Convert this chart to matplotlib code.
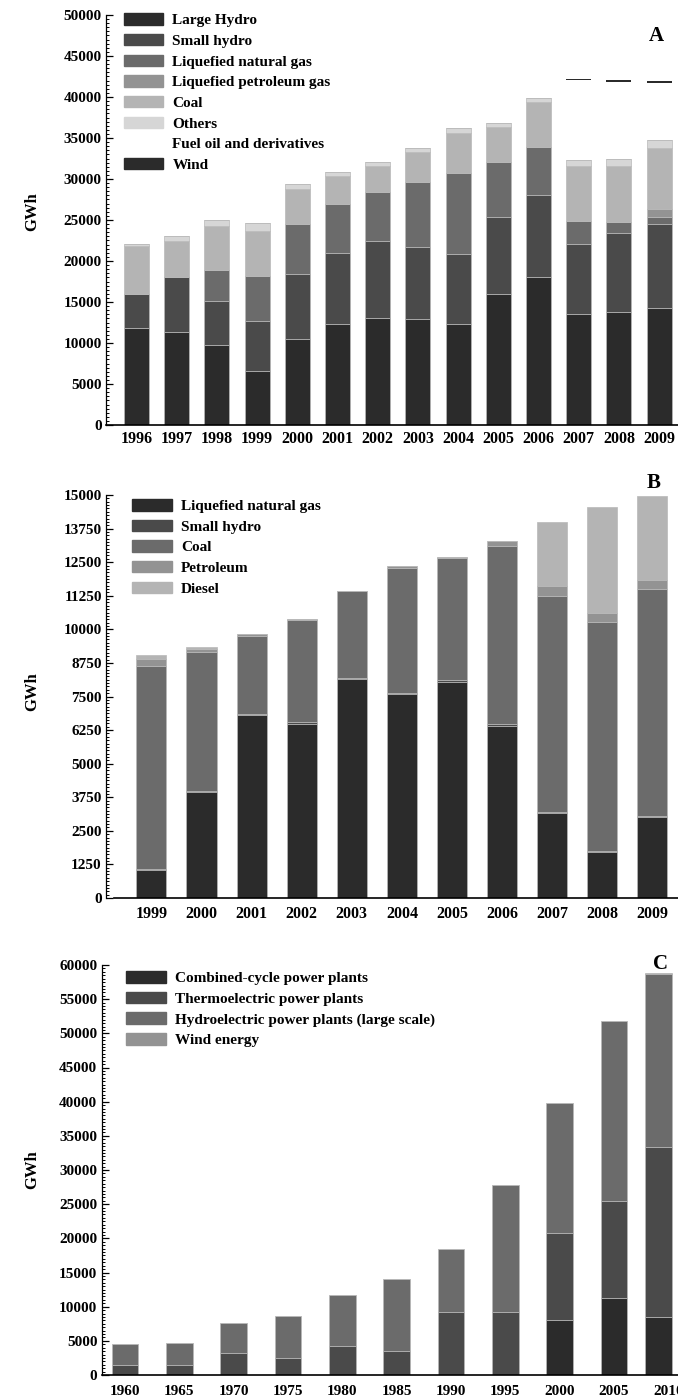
import matplotlib
matplotlib.use('Agg')
import matplotlib.pyplot as plt
import numpy as np
from matplotlib.patches import Patch
from matplotlib.ticker import MultipleLocator

plt.rcParams['font.family'] = ['Liberation Serif', 'DejaVu Serif']
plt.rcParams['font.weight'] = 'bold'

# ---- A: generation by source, 1996-2009 (GWh)
years_a = ['1996', '1997', '1998', '1999', '2000', '2001', '2002',
           '2003', '2004', '2005', '2006', '2007', '2008', '2009']
large_hydro = [11890, 11370, 9740, 6560, 10430, 12340, 13080, 12910, 12340, 16010, 18000, 13480, 13810, 14210]
small_hydro = [4120, 6630, 5330, 6150, 7980, 8680, 9370, 8840, 8470, 9320, 10000, 8640, 9650, 10270]
lng_a = [0, 0, 3830, 5420, 6110, 5950, 6000, 7900, 9940, 6690, 5890, 2730, 1260, 940]
lpg_a = [0, 0, 0, 0, 0, 0, 0, 0, 0, 0, 0, 0, 0, 980]
coal_a = [5860, 4400, 5340, 5580, 4240, 3370, 3110, 3590, 4850, 4270, 5460, 6710, 6840, 7360]
others_a = [210, 700, 810, 930, 610, 490, 460, 530, 650, 490, 570, 700, 860, 940]
fuel_oil_a = [0] * 14
wind_years = ['2007', '2008', '2009']
wind_level = [42100, 41950, 41830]

# ---- B: 1999-2009 (GWh)
years_b = ['1999', '2000', '2001', '2002', '2003', '2004', '2005', '2006', '2007', '2008', '2009']
lng_b = [1040, 3930, 6810, 6490, 8140, 7580, 8050, 6410, 3160, 1710, 3015]
small_hydro_b = [50, 50, 50, 50, 50, 50, 50, 50, 50, 50, 50]
coal_b = [7530, 5175, 2880, 3820, 3220, 4640, 4560, 6640, 8030, 8500, 8435]
petroleum_b = [290, 115, 70, 30, 30, 90, 20, 180, 370, 340, 335]
diesel_b = [120, 60, 20, 0, 0, 0, 0, 0, 2370, 3940, 3125]

# ---- C: 1960-2010 (GWh)
years_c = ['1960', '1965', '1970', '1975', '1980', '1985', '1990', '1995', '2000', '2005', '2010']
combined_cycle = [0, 0, 0, 0, 0, 0, 0, 0, 8050, 11310, 8530]
thermo = [1460, 1510, 3170, 2490, 4240, 3560, 9270, 9220, 12720, 14190, 24830]
hydro_c = [3075, 3120, 4440, 6140, 7460, 10490, 9120, 18580, 19030, 26290, 25260]
wind_c = [0, 0, 0, 0, 0, 0, 0, 0, 0, 0, 150]

shades = ['#2b2b2b', '#4a4a4a', '#6b6b6b', '#939393', '#b4b4b4', '#d6d6d6']

W, H = 678, 1400
fig = plt.figure(figsize=(W / 100, H / 100), dpi=100)


def add_ax(left, base, top, right=692):
    return fig.add_axes([left / W, 1 - base / H, (right - left) / W, (base - top) / H])


def stack(ax, x, series, colors, width):
    bottom = np.zeros(len(x))
    for vals, c in zip(series, colors):
        vals = np.asarray(vals, dtype=float)
        ax.bar(x, vals, width, bottom=bottom, color=c, edgecolor='#b8b8b8', linewidth=0.5)
        bottom += vals


def style(ax, ymax, major, minor, xpad, xsize):
    ax.set_ylim(0, ymax)
    ax.yaxis.set_major_locator(MultipleLocator(major))
    ax.yaxis.set_minor_locator(MultipleLocator(minor))
    for s in ['top', 'right']:
        ax.spines[s].set_visible(False)
    ax.spines['left'].set_linewidth(0.9)
    ax.spines['bottom'].set_linewidth(1.2)
    ax.tick_params(axis='y', which='major', direction='in', length=5, width=0.9, labelsize=11, pad=3)
    ax.tick_params(axis='y', which='minor', direction='in', length=2.5, width=0.7)
    ax.tick_params(axis='x', length=0, labelsize=xsize, pad=xpad)


def legend(ax, labels, colors, x, y):
    handles = [Patch(facecolor=c, edgecolor=c) for c in colors]
    ax.legend(handles, labels, loc='upper left', bbox_to_anchor=(x, y), frameon=False,
              fontsize=11, handlelength=2.6, handleheight=0.78, labelspacing=0.43,
              handletextpad=0.6, borderpad=0, borderaxespad=0)


# panel A
ax = add_ax(106, 425, 15)
xa = np.arange(len(years_a))
stack(ax, xa, [large_hydro, small_hydro, lng_a, lpg_a, coal_a, others_a, fuel_oil_a],
      shades + ['white'], 0.62)
xw = np.array([years_a.index(y) for y in wind_years])
ax.bar(xw, 150, 0.62, bottom=np.array(wind_level) - 75, color=shades[0], linewidth=0)
ax.set_xticks(xa)
ax.set_xticklabels(years_a)
ax.set_xlim(-0.759, (692 - 136.5) / 40.2)
style(ax, 50000, 5000, 500, 4, 11.5)
legend(ax, ['Large Hydro', 'Small hydro', 'Liquefied natural gas', 'Liquefied petroleum gas',
            'Coal', 'Others', 'Fuel oil and derivatives', 'Wind'],
       shades + ['white', shades[0]], 0.03, 1.004)

# panel B
ax = add_ax(106, 898, 495)
xb = np.arange(len(years_b))
stack(ax, xb, [lng_b, small_hydro_b, coal_b, petroleum_b, diesel_b], shades[:5], 0.6)
ax.set_xticks(xb)
ax.set_xticklabels(years_b)
ax.set_xlim(-0.906, (692 - 151.4) / 50.1)
style(ax, 15000, 1250, 125, 6, 11.5)
ax.spines['bottom'].set_bounds(-0.75, 20)
legend(ax, ['Liquefied natural gas', 'Small hydro', 'Coal', 'Petroleum', 'Diesel'],
       shades[:5], 0.045, 0.99)

# panel C
ax = add_ax(101.5, 1375, 965)
xc = np.arange(len(years_c), dtype=float)
xbar = xc.copy()
xbar[-1] -= 0.18
stack(ax, xbar, [combined_cycle, thermo, hydro_c, wind_c], shades[:4], 0.49)
ax.set_xticks(xc)
ax.set_xticklabels(years_c)
ax.set_xlim(-0.436, (692 - 125.2) / 54.3)
style(ax, 60000, 5000, 500, 7, 11)
legend(ax, ['Combined-cycle power plants', 'Thermoelectric power plants',
            'Hydroelectric power plants (large scale)', 'Wind energy'],
       shades[:4], 0.042, 0.985)

# axis titles and panel letters
for yp in [212, 692, 1170]:
    fig.text(32 / W, 1 - yp / H, 'GWh', rotation=90, ha='center', va='center', fontsize=12)
for letter, xp, yp in [('A', 656, 36), ('B', 654, 483), ('C', 660, 964)]:
    fig.text(xp / W, 1 - yp / H, letter, ha='center', va='center', fontsize=15)

fig.savefig('out.png', dpi=100)
